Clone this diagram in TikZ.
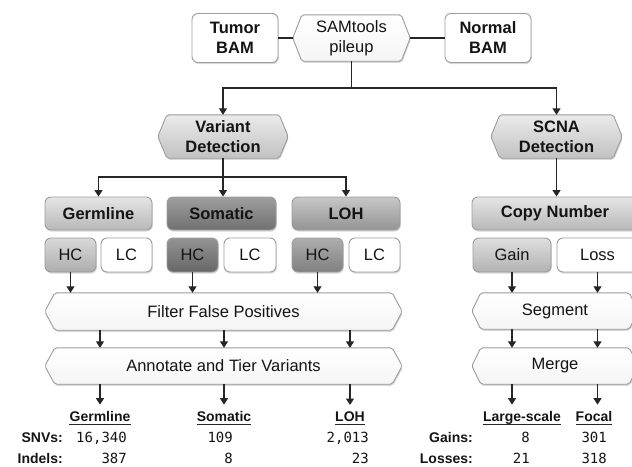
\documentclass[tikz,border=0pt]{standalone}
\usepackage{fontspec}
\setmainfont{Liberation Sans}
\newfontfamily\numfont{DejaVu Sans Mono}
\usetikzlibrary{arrows.meta,shadows,backgrounds}

\definecolor{boxline}{HTML}{9C9C9C}
\definecolor{wirec}{HTML}{262626}
\definecolor{txt}{HTML}{141414}

\tikzset{
  boxfont/.style={font=\fontsize{16.5}{20}\selectfont},
  boldfont/.style={font=\bfseries\fontsize{16.5}{20}\selectfont},
  softshadow/.style={drop shadow={shadow xshift=0.8pt, shadow yshift=-1.6pt, opacity=0.22, fill=black!70}},
  rbox/.style={boxfont, rounded corners=6pt, draw=boxline, line width=0.9pt,
    inner sep=0pt, align=center, text=txt, softshadow},
  whitebox/.style={rbox, fill=white},
  greybox/.style 2 args={rbox, top color=#1, bottom color=#2},
  catbox/.style 2 args={greybox={#1}{#2}, boldfont, minimum height=33pt},
  hextext/.style={boxfont, inner sep=0pt, align=center, text=txt},
  wire/.style={draw=wirec, line width=1.3pt},
  arr/.style={wire, -{Triangle[width=8pt,length=6.5pt]}},
  hdr/.style={font=\bfseries\fontsize{14}{17}\selectfont, inner sep=0pt, anchor=base, text=txt},
  rowname/.style={font=\bfseries\fontsize{14}{17}\selectfont, inner sep=0pt, anchor=base east, text=txt},
  num/.style={font=\numfont\fontsize{14}{17}\selectfont, inner sep=0pt, anchor=base east, text=txt},
}

% hexagonal frame behind a named text node: node, tip depth, top and bottom colour
\newcommand\hexframe[4]{%
  \path[draw=boxline, line width=0.9pt, top color=#3, bottom color=#4,
        rounded corners=2pt, softshadow]
    (#1.west) -- ([xshift=#2]#1.north west) -- ([xshift=-#2]#1.north east)
    -- (#1.east) -- ([xshift=-#2]#1.south east) -- ([xshift=#2]#1.south west) -- cycle;}

\begin{document}
\begin{tikzpicture}[x=1pt, y=-1pt]
\useasboundingbox (0,0) rectangle (632,466);

% ---- inputs ----
\node[whitebox, boldfont, minimum width=86pt, minimum height=49pt] (tumor) at (235,38) {Tumor\\BAM};
\node[hextext, minimum width=117pt, minimum height=46pt] (sam) at (351.5,38) {SAMtools\\pileup};
\node[whitebox, boldfont, minimum width=86pt, minimum height=49pt] (normal) at (488,38) {Normal\\BAM};

% ---- detection steps ----
\node[hextext, boldfont, minimum width=130pt, minimum height=43pt] (vd) at (223,136.5) {Variant\\Detection};
\node[hextext, boldfont, minimum width=131pt, minimum height=43pt] (scna) at (556.5,136.5) {SCNA\\Detection};

% ---- categories ----
\node[catbox={black!10}{black!28}, minimum width=107pt] (germ) at (98.5,213.5) {Germline};
\node[catbox={black!38}{black!56}, minimum width=109pt] (soma) at (221.5,213.5) {Somatic};
\node[catbox={black!22}{black!42}, minimum width=108pt] (loh) at (346,213.5) {LOH};
\node[catbox={black!10}{black!28}, minimum width=166pt] (cn) at (555,213.5) {Copy Number};

% ---- confidence / gain-loss boxes ----
\begin{scope}[every node/.append style={minimum height=34pt}]
\node[greybox={black!15}{black!32}, minimum width=51pt] (hcg) at (70.5,255) {HC};
\node[whitebox, minimum width=51pt] (lcg) at (126.5,255) {LC};
\node[greybox={black!42}{black!60}, minimum width=51pt] (hcs) at (192.5,255) {HC};
\node[whitebox, minimum width=52pt] (lcs) at (250,255) {LC};
\node[greybox={black!32}{black!50}, minimum width=51pt] (hcl) at (317.5,255) {HC};
\node[whitebox, minimum width=51pt] (lcl) at (374.5,255) {LC};
\node[greybox={black!13}{black!30}, minimum width=78pt] (gain) at (512,255) {Gain};
\node[whitebox, minimum width=81pt] (loss) at (597.5,255) {Loss};
\end{scope}

% ---- processing steps ----
\node[hextext, minimum width=357pt, minimum height=37pt] (filt) at (223.5,311.5) {Filter False Positives};
\node[hextext, minimum width=357pt, minimum height=36pt] (ann) at (223.5,366) {Annotate and Tier Variants};
\node[hextext, minimum width=166pt, minimum height=36pt] (seg) at (555,311) {Segment};
\node[hextext, minimum width=166pt, minimum height=36pt] (mrg) at (555,366) {Merge};

% hexagon frames drawn behind their text
\begin{scope}[on background layer]
\hexframe{sam}{9pt}{white}{black!4}
\hexframe{vd}{9pt}{black!8}{black!24}
\hexframe{scna}{9pt}{black!8}{black!24}
\hexframe{filt}{10pt}{white}{black!4}
\hexframe{ann}{10pt}{white}{black!4}
\hexframe{seg}{9pt}{white}{black!4}
\hexframe{mrg}{9pt}{white}{black!4}
\end{scope}

% ---- result tables ----
\node[hdr] (hg) at (100,421) {Germline};
\node[hdr] (hs) at (224,421) {Somatic};
\node[hdr] (hl) at (350,421) {LOH};
\node[hdr] (hls) at (522,421) {Large-scale};
\node[hdr] (hf) at (594,421) {Focal};
\foreach \h in {hg,hs,hl,hls,hf}
  \draw[wirec, line width=1pt] ([yshift=-3pt]\h.base west) -- ([yshift=-3pt]\h.base east);

\node[rowname] (snv) at (63,442) {SNVs:};
\node[rowname] (ind) at (63,463) {Indels:};
\node[num] (g1) at (127,442) {16,340};
\node[num] (g2) at (127,463) {387};
\node[num] (s1) at (233,442) {109};
\node[num] (s2) at (233,463) {8};
\node[num] (l1) at (369,442) {2,013};
\node[num] (l2) at (369,463) {23};
\node[rowname] (gn) at (473,442) {Gains:};
\node[rowname] (ls) at (473,463) {Losses:};
\node[num] (a1) at (530,442) {8};
\node[num] (a2) at (530,463) {21};
\node[num] (f1) at (607,442) {301};
\node[num] (f2) at (607,463) {318};

% ---- connectors ----
\coordinate (busA) at (0,88);
\coordinate (busB) at (0,177);
\draw[wire] (tumor.east) -- (sam.west);
\draw[wire] (sam.east) -- (normal.west);
\draw[arr] (sam.south) -- (sam.south |- busA) -| (vd.north);
\draw[arr] (sam.south |- busA) -| (scna.north);

\draw[arr] (vd.south) -- (vd.south |- busB) -| (germ.north);
\draw[arr] (vd.south |- busB) -| (loh.north);
\draw[arr] (vd.south |- busB) -- (vd.south |- soma.north);
\draw[arr] (scna.south) -- (scna.south |- cn.north);

\foreach \b in {hcg,hcs,hcl}
  \draw[arr] (\b.south) -- (\b.south |- filt.north);
\foreach \b in {gain,loss}
  \draw[arr] (\b.south) -- (\b.south |- seg.north);

\foreach \h in {hg,hs,hl} {
  \draw[arr] (\h |- filt.south) -- (\h |- ann.north);
  \draw[arr] (\h |- ann.south) -- ([yshift=6pt]\h.north);
}
\foreach \b/\h in {gain/hls,loss/hf} {
  \draw[arr] (\b |- seg.south) -- (\b |- mrg.north);
  \draw[arr] (\b |- mrg.south) -- ([yshift=6pt]\b |- \h.north);
}
\end{tikzpicture}
\end{document}
